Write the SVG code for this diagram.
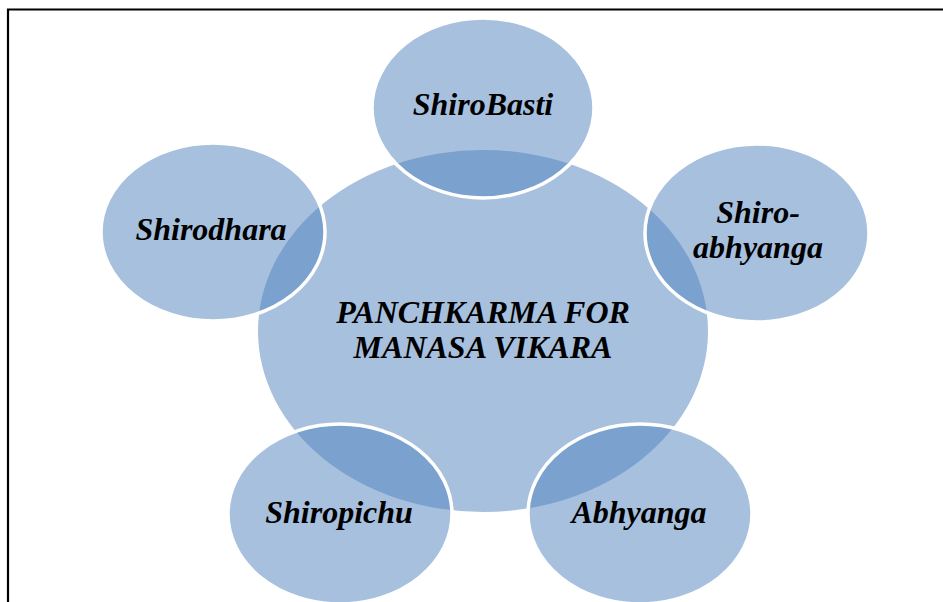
<svg xmlns="http://www.w3.org/2000/svg" width="943" height="602" viewBox="0 0 943 602">
<style>
.c{fill:#4F81BD;fill-opacity:0.5}
.o{fill:#4F81BD;fill-opacity:0.5;stroke:#FFFFFF;stroke-width:3.5}
.t{font-family:"Liberation Serif","Times New Roman",serif;font-weight:bold;font-style:italic;font-size:32px;fill:#000000;text-anchor:middle}
</style>
<rect x="0" y="0" width="943" height="602" fill="#FFFFFF"/>
<path d="M8 602 V9.5 H943" fill="none" stroke="#000000" stroke-width="2.2"/>
<g id="center">
<ellipse class="c" cx="483" cy="331" rx="225" ry="181"/>
<text class="t" x="483" y="323">PANCHKARMA FOR</text>
<text class="t" x="483" y="358">MANASA VIKARA</text>
</g>
<g id="shirobasti">
<ellipse class="o" cx="483" cy="108" rx="111" ry="90"/>
<text class="t" x="483" y="115">ShiroBasti</text>
</g>
<g id="shirodhara">
<ellipse class="o" cx="213" cy="232" rx="112" ry="89"/>
<text class="t" x="211" y="240">Shirodhara</text>
</g>
<g id="shiroabhyanga">
<ellipse class="o" cx="757" cy="233" rx="112" ry="89"/>
<text class="t" x="758" y="223">Shiro-</text>
<text class="t" x="758" y="258">abhyanga</text>
</g>
<g id="shiropichu">
<ellipse class="o" cx="340" cy="514" rx="112" ry="90"/>
<text class="t" x="339" y="523">Shiropichu</text>
</g>
<g id="abhyanga">
<ellipse class="o" cx="640" cy="514" rx="112" ry="90"/>
<text class="t" x="639" y="523">Abhyanga</text>
</g>
<g id="connectors"></g>
</svg>
